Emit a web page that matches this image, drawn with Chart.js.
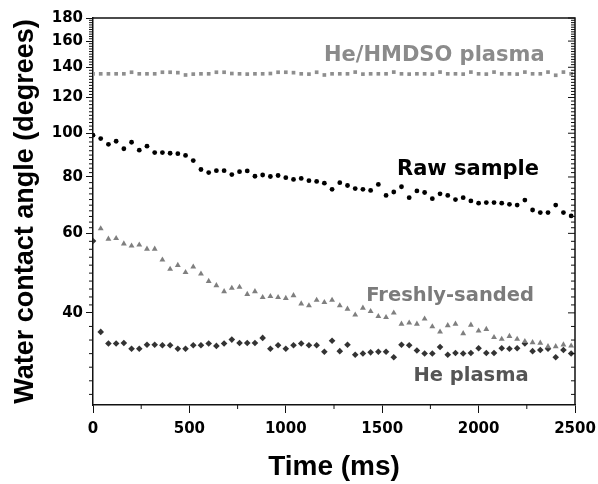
<!DOCTYPE html>
<html><head><meta charset="utf-8">
<script src="https://cdn.jsdelivr.net/npm/chart.js@4/dist/chart.umd.min.js"></script>
<style>html,body{margin:0;padding:0;background:#fff}#wrap{width:598px;height:484px;position:relative}</style>
</head><body><div id="wrap"><canvas id="c" width="598" height="484"></canvas></div>
<script>
// ---- data ----
const timeMs = [0,40,80,120,160,200,240,280,320,360,400,440,480,520,560,600,640,680,720,760,800,840,880,920,960,1000,1040,1080,1120,1160,1200,1240,1280,1320,1360,1400,1440,1480,1520,1560,1600,1640,1680,1720,1760,1800,1840,1880,1920,1960,2000,2040,2080,2120,2160,2200,2240,2280,2320,2360,2400,2440,2480];
const heHmdso = [135.4,135.4,135.4,135.4,135.4,136.5,135.4,135.4,135.4,136.5,136.5,136.2,134.6,135.2,135.4,135.4,136.5,136.5,135.6,135.4,135.2,135.4,135.4,135.6,136.5,136.5,136.2,135.4,135.2,136.5,134.6,135.4,135.4,135.4,136.6,135.2,135.4,135.4,135.4,136.6,135.4,135.2,135.4,135.4,135.2,136.6,135.4,135.4,135.2,136.6,135.4,135.2,136.6,135.4,135.4,135.2,136.6,135.4,135.4,136.6,134.4,136.6,135.4];
const rawSample = [99,97.3,94.5,96,92.4,95.5,91.7,93.6,90.6,90.6,90.3,90.1,89.3,87,83.1,81.8,82.6,82.6,81,82.2,82.5,80.3,80.8,80.2,80.6,79.7,79,79.4,78.5,78.2,77.5,75.1,77.7,76.6,75.4,75.1,74.7,77,72.8,74.1,76.1,72,74.5,73.9,71.6,73.4,72.8,71.3,72,70.8,70,70.2,70.2,70,69.6,69.3,71.1,67.6,66.7,66.7,69.3,66.7,65.6];
const freshlySanded = [null,61.5,58.3,58.5,56.9,56.3,56.6,55.4,55.4,52.4,50,51,49.2,50.6,48.8,47,46,44.6,45.4,45.6,44,44.6,43.3,43.5,43.3,43.1,43.7,41.9,41.5,42.7,42.2,42.7,41.5,40.8,39.6,41,40.3,39.3,39.1,40,37.8,38,37.8,38.8,37.3,36.3,37.5,37.8,36,37.6,36.5,36.8,35.3,35,35.5,35,34.6,34.4,34.3,33.7,33.7,34,33.8];
const hePlasma = [57.7,36.3,34.2,34.2,34.3,33.3,33.3,34,34,33.9,33.9,33.3,33.3,33.9,33.9,34.2,33.8,34.2,34.9,34.3,34.3,34.3,35.2,33.3,33.9,33.3,33.9,34.2,33.9,33.9,32.8,34.7,32.9,34,32.3,32.5,32.7,32.8,32.8,31.9,34,33.9,33,32.5,32.5,33.6,32.3,32.6,32.5,32.6,33.4,32.6,32.6,33.4,33.3,33.4,34.2,32.9,33.1,33.3,31.9,33.1,32.5];
const seriesNames = ['He/HMDSO plasma','Raw sample','Freshly-sanded','He plasma'];
const yTickValues = [40,60,80,100,120,140,160,180];
const xMinorTicks = [250,750,1250,1750,2250];
const xTitle = 'Time (ms)';
const yTitle = 'Water contact angle (degrees)';

function pts(arr){ return timeMs.map((t,i)=>({x:t,y:arr[i]})).filter(p=>p.y!==null); }

// label anchors in data coordinates [time, angle]
const labelAnchors = [[1770,144.6],[1945,81.0],[1852,42.4],[1961,28.2]];
const labelStyles = [
  {color:'#8b8b8b', size:21},
  {color:'#000000', size:21},
  {color:'#7b7b7b', size:19.5},
  {color:'#555555', size:19.5}
];

const framePlugin = {
  id:'frame',
  afterDraw(chart){
    const {ctx, chartArea:{left,right,top,bottom}, scales:{x,y}} = chart;
    ctx.save();
    ctx.strokeStyle = '#111';
    ctx.lineWidth = 1.5;
    ctx.beginPath();
    ctx.moveTo(left, top); ctx.lineTo(right, top); ctx.lineTo(right, bottom);
    ctx.stroke();
    ctx.lineWidth = 1;
    const majors = [20].concat(yTickValues);
    ctx.beginPath();
    for (let m=0; m<majors.length-1; m++){
      const pa = y.getPixelForValue(majors[m]);
      const pb = y.getPixelForValue(majors[m+1]);
      for (let k=1;k<10;k++){
        const py = pa + (pb-pa)*k/10;
        if (py > bottom-1 || py < top+1) continue;
        ctx.moveTo(left-4, py); ctx.lineTo(left, py);
        ctx.moveTo(right, py); ctx.lineTo(right-4, py);
      }
    }
    for (const v of yTickValues){
      const py = y.getPixelForValue(v);
      ctx.moveTo(right, py); ctx.lineTo(right-7, py);
    }
    for (const v of xMinorTicks){
      const px = x.getPixelForValue(v);
      ctx.moveTo(px, bottom); ctx.lineTo(px, bottom+4);
    }
    ctx.stroke();
    ctx.textAlign = 'center';
    ctx.textBaseline = 'alphabetic';
    seriesNames.forEach((name,i)=>{
      const st = labelStyles[i];
      ctx.fillStyle = st.color;
      ctx.font = `bold ${st.size}px "DejaVu Sans"`;
      ctx.fillText(name, x.getPixelForValue(labelAnchors[i][0]), y.getPixelForValue(labelAnchors[i][1]));
    });
    ctx.restore();
  }
};

new Chart(document.getElementById('c'), {
  type:'scatter',
  data:{datasets:[
    {label:seriesNames[0], data:pts(heHmdso), pointStyle:'rect', pointRadius:2.6, backgroundColor:'#8e8e8e', borderWidth:0},
    {label:seriesNames[1], data:pts(rawSample), pointStyle:'circle', pointRadius:2.4, backgroundColor:'#000', borderWidth:0},
    {label:seriesNames[2], data:pts(freshlySanded), pointStyle:'triangle', pointRadius:3.4, backgroundColor:'#7f7f7f', borderWidth:0},
    {label:seriesNames[3], data:pts(hePlasma), pointStyle:'rectRot', pointRadius:3.3, backgroundColor:'#333', borderWidth:0}
  ]},
  options:{
    responsive:false, animation:false, devicePixelRatio:1,
    layout:{padding:{left:0,right:23,top:18,bottom:0}},
    plugins:{legend:{display:false}, tooltip:{enabled:false}},
    elements:{point:{hoverRadius:0}},
    scales:{
      x:{type:'linear', min:0, max:2500,
        afterFit(s){ s.height = 79; s.paddingLeft = 0; s.paddingRight = 0; },
        ticks:{stepSize:500, color:'#000', padding:7, callback:(v)=>String(v), font:{family:'"DejaVu Sans"', weight:'bold', size:15}},
        grid:{drawOnChartArea:false, drawTicks:true, tickLength:8, tickColor:'#111', tickWidth:1},
        border:{display:true, color:'#111', width:1.5},
        title:{display:true, text:xTitle, color:'#000', padding:0, font:{family:'"Liberation Sans"', weight:'bold', size:28, lineHeight:1.2}}
      },
      y:{type:'logarithmic', min:25, max:180,
        afterFit(s){ s.width = 93; s.paddingTop = 0; s.paddingBottom = 0; },
        afterBuildTicks(s){ s.ticks = yTickValues.map(v=>({value:v})); },
        ticks:{color:'#000', padding:3, autoSkip:false, callback:(v)=>String(v), font:{family:'"DejaVu Sans"', weight:'bold', size:15}},
        grid:{drawOnChartArea:false, drawTicks:true, tickLength:7, tickColor:'#111', tickWidth:1},
        border:{display:true, color:'#111', width:1.5},
        title:{display:true, text:yTitle, color:'#000', padding:{top:9,bottom:0}, font:{family:'"Liberation Sans"', weight:'bold', size:27, lineHeight:1.2}}
      }
    }
  },
  plugins:[framePlugin]
});
</script>
</body></html>
